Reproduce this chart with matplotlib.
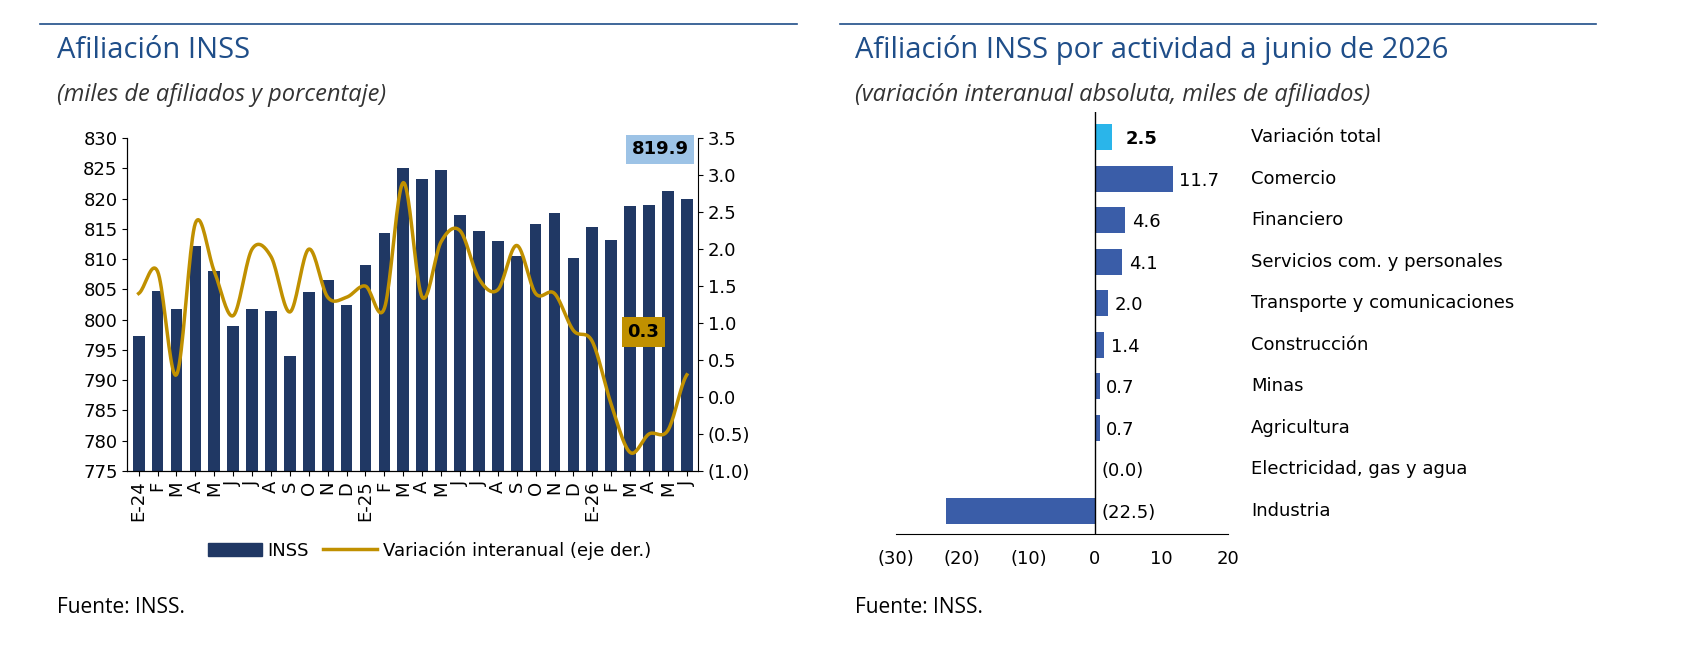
import numpy as np
import matplotlib.pyplot as plt
from matplotlib.lines import Line2D

# datos del panel izquierdo
meses = ['E-24', 'F', 'M', 'A', 'M', 'J', 'J', 'A', 'S', 'O', 'N', 'D',
         'E-25', 'F', 'M', 'A', 'M', 'J', 'J', 'A', 'S', 'O', 'N', 'D',
         'E-26', 'F', 'M', 'A', 'M', 'J']
inss = [797.3, 804.7, 801.8, 812.2, 808.0, 799.0, 801.8, 801.4, 794.0, 804.5, 806.5, 802.5,
        809.1, 814.3, 825.1, 823.2, 824.8, 817.3, 814.7, 813.0, 810.6, 815.8, 817.6, 810.2,
        815.3, 813.2, 818.8, 819.0, 821.2, 819.9]
variacion = [1.4, 1.7, 0.3, 2.35, 1.7, 1.1, 2.0, 1.9, 1.15, 2.0, 1.35, 1.35,
             1.5, 1.2, 2.9, 1.35, 2.1, 2.25, 1.6, 1.45, 2.05, 1.4, 1.4, 0.9,
             0.75, -0.1, -0.75, -0.5, -0.45, 0.3]

# datos del panel derecho
actividades = ['Variación total', 'Comercio', 'Financiero', 'Servicios com. y personales',
               'Transporte y comunicaciones', 'Construcción', 'Minas', 'Agricultura',
               'Electricidad, gas y agua', 'Industria']
valores = [2.5, 11.7, 4.6, 4.1, 2.0, 1.4, 0.7, 0.7, -0.02, -22.5]
etiquetas = ['2.5', '11.7', '4.6', '4.1', '2.0', '1.4', '0.7', '0.7', '(0.0)', '(22.5)']

navy = '#203864'
oro = '#C09000'
titulo = '#1F4E89'


def suavizar(y, n=20):
    # curva Catmull-Rom como la linea suavizada de Excel
    y = np.asarray(y, float)
    p = np.concatenate([[y[0]], y, [y[-1]]])
    xs, ys = [], []
    for i in range(len(y) - 1):
        p0, p1, p2, p3 = p[i], p[i + 1], p[i + 2], p[i + 3]
        t = np.linspace(0, 1, n, endpoint=False)
        ys.extend(0.5 * (2 * p1 + (-p0 + p2) * t + (2 * p0 - 5 * p1 + 4 * p2 - p3) * t ** 2
                         + (-p0 + 3 * p1 - 3 * p2 + p3) * t ** 3))
        xs.extend(i + t)
    xs.append(len(y) - 1)
    ys.append(y[-1])
    return np.array(xs), np.array(ys)


plt.rcParams['font.family'] = ['Verdana', 'DejaVu Sans']
fig = plt.figure(figsize=(16.84, 6.46), dpi=100)

fig.add_artist(Line2D([0.024, 0.473], [0.963, 0.963], color=titulo, lw=1.2))
fig.add_artist(Line2D([0.499, 0.948], [0.963, 0.963], color=titulo, lw=1.2))
fig.text(0.034, 0.922, 'Afiliación INSS', fontsize=21, color=titulo, va='center', family='Open Sans')
fig.text(0.034, 0.853, '(miles de afiliados y porcentaje)', fontsize=17, style='italic',
         color='#333333', va='center', family='Open Sans')
fig.text(0.508, 0.922, 'Afiliación INSS por actividad a junio de 2026', fontsize=21, color=titulo,
         va='center', family='Open Sans')
fig.text(0.508, 0.853, '(variación interanual absoluta, miles de afiliados)', fontsize=17,
         style='italic', color='#333333', va='center', family='Open Sans')
fig.text(0.034, 0.06, 'Fuente: INSS.', fontsize=15, va='center', family='Open Sans')
fig.text(0.508, 0.06, 'Fuente: INSS.', fontsize=15, va='center', family='Open Sans')

# panel izquierdo
ax = fig.add_axes([0.0756, 0.271, 0.339, 0.515])
x = np.arange(len(meses))
ax.bar(x, [v - 775 for v in inss], bottom=775, width=0.62, color=navy)
ax.set_ylim(775, 830)
ax.set_xlim(-0.6, len(meses) - 0.4)
ax.set_yticks(range(775, 831, 5))
ax.set_xticks(x)
ax.set_xticklabels(meses, rotation=90, fontsize=13)
ax.tick_params(axis='y', labelsize=13)
for s in ['top', 'right']:
    ax.spines[s].set_visible(False)
ax2 = ax.twinx()
xs, ys = suavizar(variacion)
ax2.plot(xs, ys, color=oro, lw=2.5)
ax2.set_ylim(-1, 3.5)
ax2.set_yticks(np.arange(-1, 3.51, 0.5))
ax2.set_yticklabels(['(1.0)', '(0.5)', '0.0'] + ['%.1f' % v for v in np.arange(0.5, 3.51, 0.5)],
                    fontsize=13)
ax2.spines['top'].set_visible(False)
ax.text(len(meses) - 2.4, 828.2, '%.1f' % inss[-1], ha='center', va='center', fontsize=13,
        weight='bold', bbox=dict(facecolor='#9DC3E6', edgecolor='none', pad=4))
ax2.text(len(meses) - 3.3, 0.88, '%.1f' % variacion[-1], ha='center', va='center', fontsize=13,
         weight='bold', bbox=dict(facecolor=oro, edgecolor='none', pad=4))
fig.legend([plt.Rectangle((0, 0), 1, 1, color=navy), Line2D([], [], color=oro, lw=2.5)],
           ['INSS', 'Variación interanual (eje der.)'], loc='center', ncol=2,
           bbox_to_anchor=(0.255, 0.148), frameon=False, fontsize=13,
           handlelength=3, columnspacing=0.8, handletextpad=0.3)

# panel derecho
bx = fig.add_axes([0.532, 0.174, 0.197, 0.652])
y = np.arange(len(actividades))
colores = ['#2AB5EA'] + ['#3A5DA8'] * (len(actividades) - 1)
bx.barh(y, valores, height=0.62, color=colores)
bx.set_ylim(len(actividades) - 0.45, -0.6)
bx.set_xlim(-30, 20)
bx.set_xticks(range(-30, 21, 10))
bx.set_xticklabels(['(30)', '(20)', '(10)', '0', '10', '20'], fontsize=13)
bx.tick_params(axis='x', length=0, pad=12)
bx.set_yticks([])
for s in ['top', 'right', 'left']:
    bx.spines[s].set_visible(False)
bx.axvline(0, color='black', lw=1)
for i, (v, t) in enumerate(zip(valores, etiquetas)):
    pos = max(v, 0) + 1 if i > 0 else v + 2.2
    bx.text(pos, i + 0.05, t, va='center', ha='left', fontsize=13,
            weight='bold' if i == 0 else 'normal')
    bx.text(23.5, i, actividades[i], va='center', ha='left', fontsize=13, clip_on=False)

fig.savefig('out.png', dpi=100)
